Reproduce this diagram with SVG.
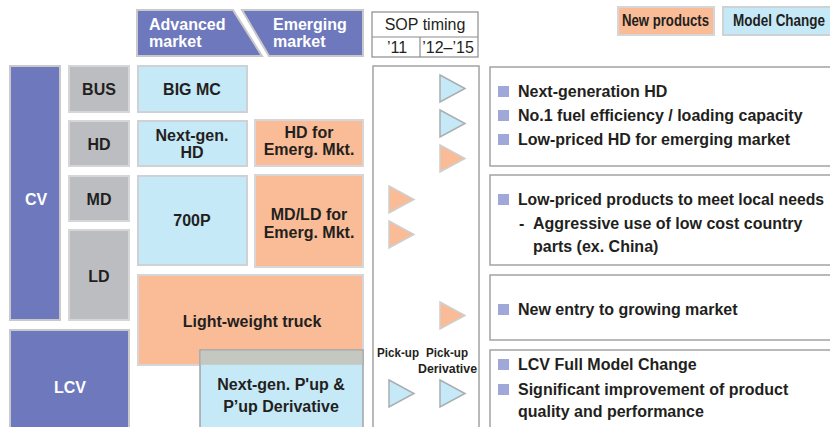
<svg xmlns="http://www.w3.org/2000/svg" width="830" height="427" viewBox="0 0 830 427">
<style>
text{font-family:"Liberation Sans",Arial,sans-serif;font-weight:bold;fill:#231f20;font-size:16px}
.c{text-anchor:middle}
.w{fill:#ffffff}
.blue{fill:#6e78bc;stroke:#c9c9cc;stroke-width:2}
.gray{fill:#bcbdc1;stroke:#d6d6d8;stroke-width:2}
.lb{fill:#c6e9f8;stroke:#cfd2d4;stroke-width:2}
.or{fill:#f9bc97;stroke:#d6d6d8;stroke-width:2}
.frame{fill:#ffffff;stroke:#a3a3a6;stroke-width:1.5}
.tb{fill:#c6e9f8;stroke:#a9aeb2;stroke-width:1.5}
.to{fill:#f9bc97;stroke:#cfcfcf;stroke-width:1.5}
.bul{fill:#9fa8d8}
.sm{font-size:13.5px}
.nm{font-weight:normal}
</style>
<defs>
<polygon id="tri" points="0,0 25,13.5 0,27"/>
</defs>

<!-- header -->
<g id="hdr-advanced">
<polygon class="blue" points="137,10 233,10 262,56 137,56"/>
<text class="w" x="149" y="30">Advanced</text>
<text class="w" x="149" y="47">market</text>
</g>
<g id="hdr-emerging">
<polygon class="blue" points="242,10 363,10 363,56 269,56"/>
<text class="w" x="273" y="30">Emerging</text>
<text class="w" x="273" y="47">market</text>
</g>
<g id="hdr-sop">
<rect x="372" y="12" width="106" height="45" fill="#ffffff" stroke="#8c8c8f" stroke-width="1.2"/>
<line x1="372" y1="37" x2="478" y2="37" stroke="#8c8c8f" stroke-width="1.2"/>
<line x1="420" y1="37" x2="420" y2="57" stroke="#8c8c8f" stroke-width="1.2"/>
<text class="c nm" x="425" y="30" font-size="16.5">SOP timing</text>
<text class="c nm" x="397" y="53" font-size="13">’11</text>
<text class="c nm" x="448" y="53" font-size="13">’12–’15</text>
</g>
<g id="legend-new">
<rect class="or" x="618" y="7" width="96" height="28"/>
<text x="622" y="26" font-size="13" textLength="87" lengthAdjust="spacingAndGlyphs">New products</text>
</g>
<g id="legend-mc">
<rect class="lb" x="723" y="7" width="110" height="28" stroke="#a9aeb2" stroke-width="1.5"/>
<text x="733" y="26" font-size="13" textLength="92" lengthAdjust="spacingAndGlyphs">Model Change</text>
</g>

<!-- left categories -->
<g id="cv"><rect class="blue" x="10" y="66" width="50" height="254"/><text class="c w" x="36" y="205">CV</text></g>
<g id="lcv"><rect class="blue" x="10" y="330" width="119" height="110"/><text class="c w" x="70" y="393">LCV</text></g>
<g id="bus"><rect class="gray" x="69" y="66" width="60" height="46"/><text class="c" x="99" y="95">BUS</text></g>
<g id="hd"><rect class="gray" x="69" y="121" width="60" height="45"/><text class="c" x="99" y="150">HD</text></g>
<g id="md"><rect class="gray" x="69" y="176" width="60" height="45"/><text class="c" x="99" y="205">MD</text></g>
<g id="ld"><rect class="gray" x="69" y="230" width="60" height="90"/><text class="c" x="99" y="282">LD</text></g>

<!-- products -->
<g id="bigmc"><rect class="lb" x="138" y="66" width="109" height="46"/><text class="c" x="192" y="95">BIG MC</text></g>
<g id="nextgen-hd"><rect class="lb" x="138" y="121" width="109" height="45"/><text class="c" x="192" y="141">Next-gen.</text><text class="c" x="192" y="158">HD</text></g>
<g id="p700"><rect class="lb" x="138" y="176" width="109" height="89"/><text class="c" x="192" y="226">700P</text></g>
<g id="hd-emerg"><rect class="or" x="255" y="120" width="108" height="46"/><text class="c" x="309" y="138">HD for</text><text class="c" x="309" y="155">Emerg. Mkt.</text></g>
<g id="mdld-emerg"><rect class="or" x="255" y="175" width="108" height="92"/><text class="c" x="309" y="220">MD/LD for</text><text class="c" x="309" y="238">Emerg. Mkt.</text></g>
<g id="lwt"><rect class="or" x="138" y="275" width="225" height="90"/><text class="c" x="252" y="327">Light-weight truck</text></g>
<g id="nextgen-pup">
<rect x="200" y="350" width="163" height="90" fill="#c6e9f8" stroke="#a3a3a6" stroke-width="1.5"/>
<rect x="200.75" y="350.75" width="161.5" height="14" fill="#c4c8c0"/>
<text class="c" x="281" y="390">Next-gen. P'up &amp;</text>
<text class="c" x="281" y="412">P’up Derivative</text>
</g>

<!-- SOP timing column -->
<g id="timing">
<rect class="frame" x="373" y="66" width="106" height="380"/>
<use href="#tri" class="tb" x="440" y="75"/>
<use href="#tri" class="tb" x="440" y="110"/>
<use href="#tri" class="to" x="440" y="145"/>
<use href="#tri" class="to" x="389" y="186"/>
<use href="#tri" class="to" x="389" y="221"/>
<use href="#tri" class="to" x="440" y="302"/>
<text class="sm" x="377" y="357" textLength="42" lengthAdjust="spacingAndGlyphs">Pick-up</text>
<text class="sm" x="426" y="357" textLength="42" lengthAdjust="spacingAndGlyphs">Pick-up</text>
<text class="sm" x="418" y="373" textLength="59" lengthAdjust="spacingAndGlyphs">Derivative</text>
<use href="#tri" class="tb" x="389" y="380"/>
<use href="#tri" class="tb" x="440" y="380"/>
</g>

<!-- right descriptions -->
<g id="desc-hd">
<rect class="frame" x="490" y="67" width="350" height="99"/>
<rect class="bul" x="498" y="86" width="11" height="11"/><text x="518" y="97">Next-generation HD</text>
<rect class="bul" x="498" y="110" width="11" height="11"/><text x="518" y="121">No.1 fuel efficiency / loading capacity</text>
<rect class="bul" x="498" y="134" width="11" height="11"/><text x="518" y="145">Low-priced HD for emerging market</text>
</g>
<g id="desc-mdld">
<rect class="frame" x="490" y="175" width="350" height="90"/>
<rect class="bul" x="498" y="194" width="11" height="11"/><text x="518" y="205" textLength="306" lengthAdjust="spacingAndGlyphs">Low-priced products to meet local needs</text>
<text x="519" y="229">-</text><text x="533" y="229">Aggressive use of low cost country</text>
<text x="533" y="252">parts (ex. China)</text>
</g>
<g id="desc-lwt">
<rect class="frame" x="490" y="275" width="350" height="65"/>
<rect class="bul" x="498" y="304" width="11" height="11"/><text x="518" y="315">New entry to growing market</text>
</g>
<g id="desc-lcv">
<rect class="frame" x="490" y="350" width="350" height="90"/>
<rect class="bul" x="498" y="359" width="11" height="11"/><text x="518" y="370">LCV Full Model Change</text>
<rect class="bul" x="498" y="384" width="11" height="11"/><text x="518" y="395">Significant improvement of product</text>
<text x="518" y="417">quality and performance</text>
</g>
<g id="connectors"></g>
</svg>
